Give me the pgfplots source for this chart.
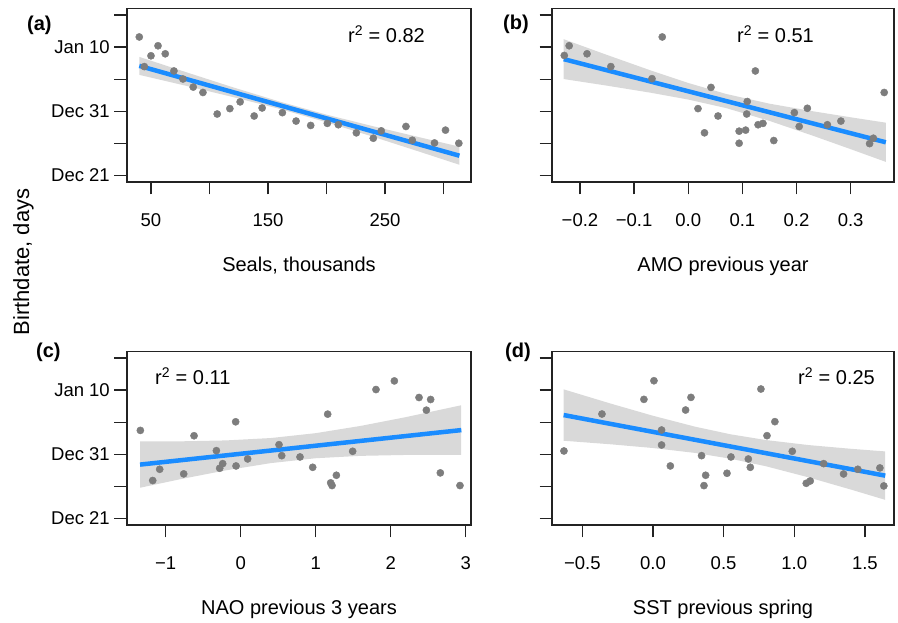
\documentclass[border=0pt]{standalone}
\usepackage{fontspec}
\setmainfont{Liberation Sans}
\usepackage{pgfplots}
\pgfplotsset{compat=1.18}
\definecolor{ptgray}{RGB}{125,125,125}
\definecolor{bandgray}{RGB}{217,217,217}
\definecolor{fitblue}{RGB}{26,140,255}
\definecolor{axgray}{RGB}{35,35,35}
\pgfplotsset{
  panel/.style={
    scale only axis, height=173.5pt, anchor=south west,
    ymin=-11, ymax=16,
    ytick={-10,-5,0,5,10,15},
    tick align=outside, tick pos=left,
    major tick length=12.5pt,
    axis line style={axgray, line width=1.3pt},
    every tick/.style={axgray, line width=1.3pt},
    tick label style={font=\fontsize{18.5}{22}\selectfont},
    xticklabel style={anchor=base, inner sep=0pt, yshift=-32.5pt},
    yticklabel style={anchor=east, inner sep=0pt, xshift=-4.5pt},
    xlabel style={font=\fontsize{20}{24}\selectfont, at={(axis description cs:0.5,0)}, anchor=base, yshift=-90pt},
  },
  pts/.style={only marks, mark=*, mark size=3.6pt, color=ptgray, mark options={draw=none, fill=ptgray}},
  fitl/.style={fitblue, line width=4.5pt, no marks},
  bnd/.style={fill=bandgray, draw=none, no marks},
}
\begin{document}
\begin{tikzpicture}
\useasboundingbox (0,0) rectangle (898pt,623pt);
% ---------------- (a)
\begin{axis}[panel, at={(127pt,441pt)}, width=344pt,
  xmin=29.5, xmax=323.5,
  xtick={50,100,150,200,250,300}, xticklabels={50,,150,,250,},
  yticklabels={Dec 21,,Dec 31,,Jan 10,},
  xlabel={Seals, thousands}]
\addplot[bnd] coordinates {(40,8.47)(80,6.09)(120,3.74)(160,1.51)(200,-0.52)(240,-2.33)(280,-4.06)(313.6,-5.50)(313.6,-8.32)(280,-6.32)(240,-3.97)(200,-1.70)(160,0.37)(120,2.22)(80,3.97)(40,5.67)} -- cycle;
\addplot[pts] coordinates {(40.0,11.57)(44.3,6.96)(50,8.64)(56,10.2)(62.2,8.95)(69.6,6.28)(77.3,5.03)(86.1,3.77)(94.4,2.93)(106.6,-0.42)(117.4,0.42)(126.2,1.47)(138.2,-0.73)(145,0.52)(162.3,-0.21)(174,-1.52)(186.5,-2.2)(200.7,-1.88)(210.1,-2.09)(225.5,-3.35)(240,-4.19)(246.8,-3.04)(267.9,-2.36)(273.3,-4.5)(292.3,-4.92)(301.7,-2.93)(313.1,-4.97)};
\addplot[fitl] coordinates {(40,7.07)(313.6,-6.91)};
\end{axis}
% ---------------- (b)
\begin{axis}[panel, at={(552pt,441pt)}, width=342pt,
  xmin=-0.2517, xmax=0.3801,
  xtick={-0.2,-0.1,0,0.1,0.2,0.3}, xticklabels={−0.2,−0.1,0.0,0.1,0.2,0.3},
  yticklabels={},
  xlabel={AMO previous year}]
\addplot[bnd] coordinates {(-0.23,11.22)(-0.15,8.77)(-0.07,6.38)(0.0,4.41)(0.07,2.70)(0.15,1.19)(0.23,0.01)(0.30,-0.93)(0.365,-1.77)(0.365,-7.87)(0.30,-5.89)(0.23,-3.79)(0.15,-1.49)(0.07,0.50)(0.0,1.83)(-0.07,2.90)(-0.15,3.99)(-0.23,5.02)} -- cycle;
\addplot[pts] coordinates {(-0.229,8.69)(-0.220,10.2)(-0.187,8.95)(-0.143,6.96)(-0.067,5.08)(-0.048,11.57)(0.018,0.42)(0.030,-3.35)(0.042,3.72)(0.055,-0.73)(0.094,-3.09)(0.094,-4.97)(0.106,-2.93)(0.108,-0.42)(0.109,1.52)(0.124,6.28)(0.129,-2.09)(0.138,-1.88)(0.158,-4.55)(0.196,-0.21)(0.205,-2.36)(0.220,0.47)(0.257,-2.09)(0.282,-1.52)(0.335,-5.03)(0.342,-4.19)(0.362,2.93)};
\addplot[fitl] coordinates {(-0.230,8.12)(0.365,-4.82)};
\end{axis}
% ---------------- (c)
\begin{axis}[panel, at={(127pt,98pt)}, width=344pt,
  xmin=-1.516, xmax=3.071,
  xtick={-1,0,1,2,3}, xticklabels={−1,0,1,2,3},
  yticklabels={Dec 21,,Dec 31,,Jan 10,},
  xlabel={NAO previous 3 years}]
\addplot[bnd] coordinates {(-1.34,2.00)(-0.8,2.02)(-0.2,2.16)(0.4,2.53)(1.0,3.29)(1.6,4.42)(2.2,5.78)(2.94,7.63)(2.94,-0.09)(2.2,-0.10)(1.6,-0.24)(1.0,-0.61)(0.4,-1.37)(-0.2,-2.50)(-0.8,-3.86)(-1.34,-5.20)} -- cycle;
\addplot[pts] coordinates {(-1.338,3.72)(-1.173,-4.08)(-1.08,-2.33)(-0.76,-3.05)(-0.622,2.89)(-0.324,0.57)(-0.28,-2.17)(-0.24,-1.45)(-0.067,5.06)(-0.062,-1.81)(0.093,-0.72)(0.511,1.50)(0.547,-0.21)(0.791,-0.41)(0.96,-2.02)(1.16,6.25)(1.2,-4.44)(1.218,-4.86)(1.276,-3.26)(1.493,0.47)(1.804,10.08)(2.049,11.42)(2.378,8.84)(2.476,6.87)(2.533,8.53)(2.662,-2.89)(2.924,-4.86)};
\addplot[fitl] coordinates {(-1.342,-1.60)(2.942,3.77)};
\end{axis}
% ---------------- (d)
\begin{axis}[panel, at={(552pt,98pt)}, width=342pt,
  xmin=-0.7145, xmax=1.706,
  xtick={-0.5,0,0.5,1,1.5}, xticklabels={−0.5,0.0,0.5,1.0,1.5},
  yticklabels={},
  xlabel={SST previous spring}]
\addplot[bnd] coordinates {(-0.632,10.11)(-0.3,7.90)(0.0,6.00)(0.3,4.29)(0.55,3.11)(0.8,2.22)(1.1,1.44)(1.4,0.86)(1.644,0.45)(1.644,-7.09)(1.4,-5.48)(1.1,-3.58)(0.8,-1.86)(0.55,-0.69)(0.3,0.21)(0.0,0.98)(-0.3,1.56)(-0.632,2.11)} -- cycle;
\addplot[pts] coordinates {(-0.630,0.52)(-0.361,6.27)(-0.064,8.55)(0.007,11.45)(0.061,3.78)(0.061,1.45)(0.123,-1.81)(0.231,6.89)(0.269,8.86)(0.344,-0.21)(0.373,-3.26)(0.361,-4.87)(0.524,-2.95)(0.552,-0.41)(0.675,-0.73)(0.689,-2.02)(0.764,10.16)(0.807,2.90)(0.863,5.08)(0.986,0.47)(1.085,-4.51)(1.113,-4.15)(1.208,-1.45)(1.349,-3.06)(1.450,-2.33)(1.606,-2.12)(1.634,-4.92)};
\addplot[fitl] coordinates {(-0.632,6.11)(1.644,-3.32)};
\end{axis}
% ---------------- labels
\node[anchor=base west, inner sep=0pt, font=\fontsize{20}{24}\selectfont\bfseries] at (27pt,592pt) {(a)};
\node[anchor=base west, inner sep=0pt, font=\fontsize{20}{24}\selectfont\bfseries] at (503pt,593pt) {(b)};
\node[anchor=base west, inner sep=0pt, font=\fontsize{20}{24}\selectfont\bfseries] at (36pt,265pt) {(c)};
\node[anchor=base west, inner sep=0pt, font=\fontsize{20}{24}\selectfont\bfseries] at (505pt,265pt) {(d)};
\node[anchor=base west, inner sep=0pt, font=\fontsize{20}{24}\selectfont] at (348pt,580pt) {r\textsuperscript{2} = 0.82};
\node[anchor=base west, inner sep=0pt, font=\fontsize{20}{24}\selectfont] at (737pt,580pt) {r\textsuperscript{2} = 0.51};
\node[anchor=base west, inner sep=0pt, font=\fontsize{20}{24}\selectfont] at (155pt,238pt) {r\textsuperscript{2} = 0.11};
\node[anchor=base west, inner sep=0pt, font=\fontsize{20}{24}\selectfont] at (798pt,238pt) {r\textsuperscript{2} = 0.25};
\node[anchor=base, inner sep=0pt, rotate=90, font=\fontsize{22}{26}\selectfont] at (29pt,361pt) {Birthdate, days};
\end{tikzpicture}
\end{document}
